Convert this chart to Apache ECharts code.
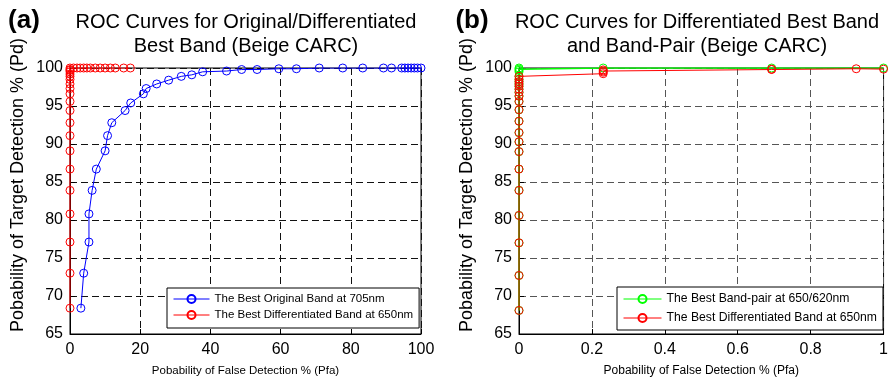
<!DOCTYPE html>
<html>
<head>
<meta charset="utf-8">
<script src="https://cdn.jsdelivr.net/npm/echarts@6/dist/echarts.min.js"></script>
<style>
  html, body { margin: 0; padding: 0; background: #fff; }
  #chart { width: 891px; height: 384px; }
</style>
</head>
<body>
<div id="chart"></div>
<script>
// panel (a): Pfa (%) vs Pd (%)
const origBandA = [
  [3.1, 68.4], [3.9, 73.0], [5.4, 77.1], [5.4, 80.8], [6.3, 83.9], [7.5, 86.7],
  [10.0, 89.1], [10.7, 91.1], [11.9, 92.8], [15.7, 94.4], [17.3, 95.4], [20.9, 96.6],
  [21.7, 97.3], [24.7, 97.9], [28.1, 98.4], [31.7, 98.9], [34.7, 99.1], [37.8, 99.5],
  [44.6, 99.6], [48.9, 99.8], [53.3, 99.8], [59.5, 99.9], [64.5, 99.9], [71.0, 100],
  [77.7, 100], [83.4, 100], [89.3, 100], [91.6, 100], [94.5, 100], [95.4, 100],
  [96.3, 100], [97.2, 100], [98.1, 100], [99.0, 100], [100, 100]
];
const diffBandA = [
  [0, 68.4], [0, 73.0], [0, 77.1], [0, 80.8], [0, 83.9], [0, 86.7], [0, 89.1],
  [0, 91.1], [0, 92.8], [0, 94.4], [0, 95.6], [0, 96.6], [0, 97.3], [0, 97.9],
  [0, 98.5], [0, 98.9], [0, 99.2], [0, 99.5], [0, 99.7], [0, 99.8], [0, 100],
  [1.0, 100], [2.0, 100], [2.9, 100], [3.9, 100], [4.8, 100], [5.8, 100], [7.2, 100],
  [8.6, 100], [10.0, 100], [11.5, 100], [12.9, 100], [15.3, 100], [17.2, 100]
];

// panel (b): zoomed Pfa axis 0..1 %
const bandPairB = [
  [0, 68.1], [0, 72.7], [0, 77.0], [0, 80.6], [0, 83.9], [0, 86.7], [0, 89.0],
  [0, 90.3], [0, 91.5], [0, 93.0], [0, 94.5], [0, 95.6], [0, 96.3], [0, 96.8],
  [0, 97.2], [0, 97.6], [0, 97.9], [0, 98.2], [0, 98.5], [0, 98.9], [0, 99.5],
  [0, 99.7], [0, 99.85], [0, 100], [0.231, 100], [0.693, 100], [1.0, 100]
];
const diffBandB = [
  [0, 68.1], [0, 72.7], [0, 77.0], [0, 80.6], [0, 83.9], [0, 86.7], [0, 89.0],
  [0, 90.3], [0, 91.5], [0, 93.0], [0, 94.5], [0, 95.6], [0, 96.3], [0, 96.8],
  [0, 97.2], [0, 97.6], [0, 97.9], [0, 98.2], [0, 98.5], [0, 98.9],
  [0.231, 99.25], [0.231, 99.45], [0.231, 99.6], [0.231, 99.75],
  [0.693, 99.8], [0.693, 99.85], [0.925, 99.9], [1.0, 99.85]
];

const FONT = "'Liberation Sans', Arial, Helvetica, sans-serif";
const NAME_ORIG = "The Best Original Band at 705nm";
const NAME_DIFF = "The Best Differentiated Band at 650nm";
const NAME_PAIR = "The Best Band-pair at 650/620nm";

const chart = echarts.init(document.getElementById("chart"), null, { renderer: "canvas" });

function xAxisOf(grid, max, interval, fontSize, nameSize, gridColor) {
  return {
    gridIndex: grid, type: "value", min: 0, max: max, interval: interval,
    name: "Pobability of False Detection % (Pfa)",
    nameLocation: "middle", nameGap: 31,
    nameTextStyle: { color: "#000", fontSize: nameSize, fontFamily: FONT },
    axisLine: { show: true, onZero: false, lineStyle: { color: "#000", width: 1 } },
    axisTick: { show: true, inside: true, length: 5, lineStyle: { color: "#000" } },
    axisLabel: { color: "#000", fontSize: fontSize, fontFamily: FONT, margin: 8 },
    splitLine: { show: true, lineStyle: { color: gridColor, type: [7, 4], width: 1 } }
  };
}

function yAxisOf(grid, fontSize, gridColor) {
  return {
    gridIndex: grid, type: "value", min: 65, max: 100, interval: 5,
    axisLine: { show: true, onZero: false, lineStyle: { color: "#000", width: 1 } },
    axisTick: { show: true, inside: true, length: 5, lineStyle: { color: "#000" } },
    axisLabel: { color: "#000", fontSize: fontSize, fontFamily: FONT, margin: 7 },
    splitLine: { show: true, lineStyle: { color: gridColor, type: [7, 4], width: 1 } }
  };
}

function lineSeries(name, data, color, axis, z, width) {
  return {
    name: name, type: "line", xAxisIndex: axis, yAxisIndex: axis, data: data,
    symbol: "circle", symbolSize: 8, z: z,
    itemStyle: { color: "rgba(255,255,255,0)", borderColor: color, borderWidth: 1 },
    lineStyle: { color: color, width: width || 1 },
    emphasis: { disabled: true }
  };
}

function legendOf(left, top, names, itemWidth, gap, pad, fontSize) {
  return {
    orient: "vertical", left: left, top: top, data: names,
    itemWidth: itemWidth, itemHeight: 10, itemGap: gap, padding: pad,
    borderColor: "#000", borderWidth: 1, backgroundColor: "#fff", borderRadius: 0,
    selectedMode: false,
    lineStyle: { width: 1 },
    textStyle: { color: "#000", fontSize: fontSize, fontFamily: FONT }
  };
}

chart.setOption({
  animation: false,
  backgroundColor: "#fff",
  textStyle: { fontFamily: FONT },
  grid: [
    { left: 70, top: 68, width: 351, height: 266, show: true, borderColor: "#000", borderWidth: 1, containLabel: false },
    { left: 519, top: 68, width: 365, height: 266, show: true, borderColor: "#000", borderWidth: 1, containLabel: false }
  ],
  xAxis: [
    xAxisOf(0, 100, 20, 16, 11.5, "#111"),
    xAxisOf(1, 1, 0.2, 16, 12, "#555")
  ],
  yAxis: [
    yAxisOf(0, 16, "#111"),
    yAxisOf(1, 16, "#555")
  ],
  legend: [
    legendOf(167, 288, [NAME_ORIG, NAME_DIFF], 36, 4, [5, 6, 7, 6], 11.5),
    legendOf(617, 287, [NAME_PAIR, NAME_DIFF], 38, 7, [6, 6, 6, 6], 12.2)
  ],
  graphic: [
    { type: "text", x: 24, y: 21, style: { text: "(a)", font: "bold 26px " + FONT, fill: "#000", textAlign: "center", textVerticalAlign: "middle", align: "center", verticalAlign: "middle" } },
    { type: "text", x: 472, y: 21, style: { text: "(b)", font: "bold 26px " + FONT, fill: "#000", textAlign: "center", textVerticalAlign: "middle", align: "center", verticalAlign: "middle" } },
    { type: "text", x: 246, y: 10, style: { text: "ROC Curves for Original/Differentiated\nBest Band (Beige CARC)", font: "20px " + FONT, lineHeight: 24, fill: "#000", textAlign: "center", align: "center", textVerticalAlign: "top", verticalAlign: "top" } },
    { type: "text", x: 697, y: 10, style: { text: "ROC Curves for Differentiated Best Band\nand Band-Pair (Beige CARC)", font: "20px " + FONT, lineHeight: 24, fill: "#000", textAlign: "center", align: "center", textVerticalAlign: "top", verticalAlign: "top" } },
    { type: "text", x: 18, y: 185, rotation: Math.PI / 2, style: { text: "Pobability of Target Detection % (Pd)", font: "18px " + FONT, fill: "#000", textAlign: "center", align: "center", textVerticalAlign: "middle", verticalAlign: "middle" } },
    { type: "text", x: 467, y: 185, rotation: Math.PI / 2, style: { text: "Pobability of Target Detection % (Pd)", font: "18px " + FONT, fill: "#000", textAlign: "center", align: "center", textVerticalAlign: "middle", verticalAlign: "middle" } }
  ],
  series: [
    lineSeries(NAME_DIFF, diffBandA, "#ff0000", 0, 3),
    lineSeries(NAME_ORIG, origBandA, "#0000ff", 0, 4),
    lineSeries(NAME_PAIR, bandPairB, "#00ff00", 1, 3, 1.5),
    lineSeries(NAME_DIFF, diffBandB, "#ff0000", 1, 4)
  ]
});
</script>
</body>
</html>
